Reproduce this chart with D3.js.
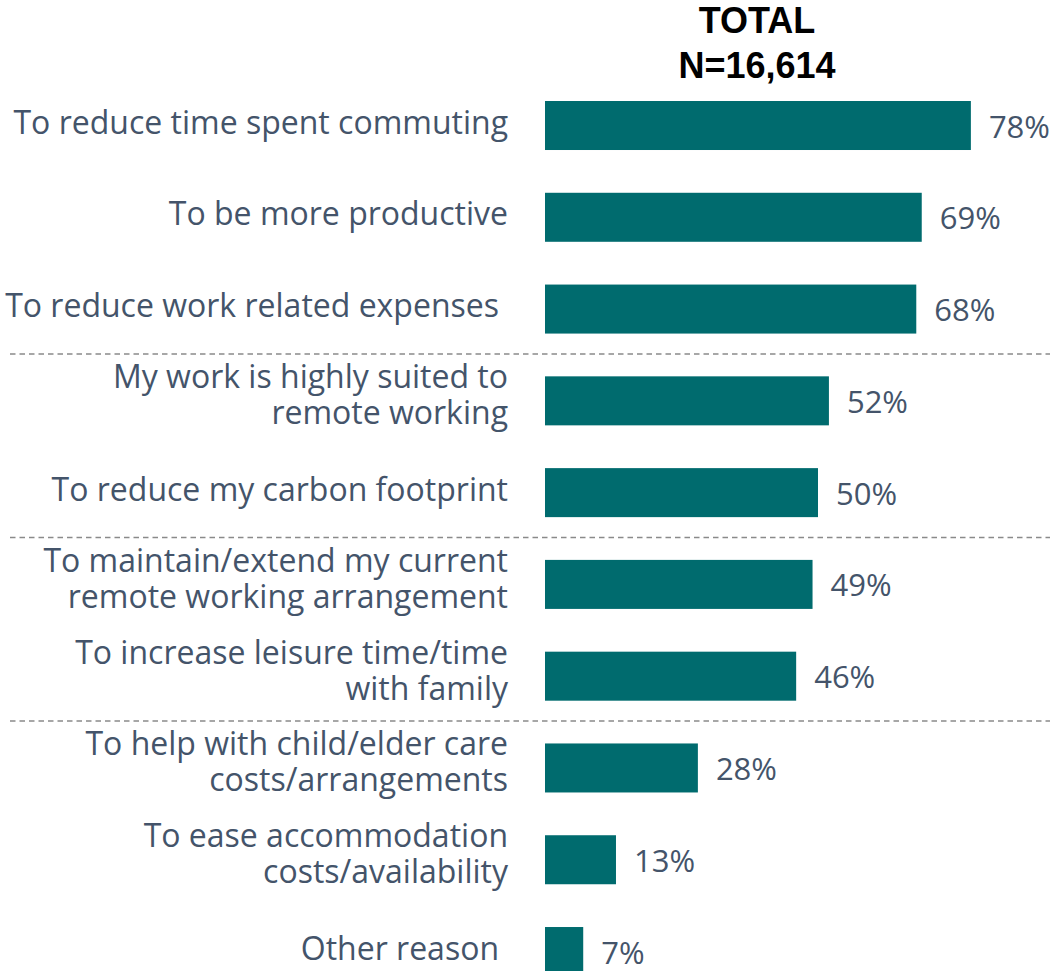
<!DOCTYPE html>
<html>
<head>
<meta charset="utf-8">
<script src="https://cdn.jsdelivr.net/npm/d3@7"></script>
<style>
  html, body { margin: 0; padding: 0; background: #fff; overflow: hidden; }
  svg { display: block; }
</style>
</head>
<body>
<svg id="chart" width="1053" height="971"></svg>
<script>
// Reasons for wanting to work remotely (share of respondents)
const categories = [
  ["To reduce time spent commuting"],
  ["To be more productive"],
  ["To reduce work related expenses"],
  ["My work is highly suited to", "remote working"],
  ["To reduce my carbon footprint"],
  ["To maintain/extend my current", "remote working arrangement"],
  ["To increase leisure time/time", "with family"],
  ["To help with child/elder care", "costs/arrangements"],
  ["To ease accommodation", "costs/availability"],
  ["Other reason"]
];
const values = [78, 69, 68, 52, 50, 49, 46, 28, 13, 7];
const headerLines = ["TOTAL", "N=16,614"];
// group separators fall after these row indices
const groupBreaks = [2, 4, 6];

const svg = d3.select("#chart");
const textColor = "#44546a";
const barColor = "#006b6e";
const labelFont = "'Open Sans', sans-serif";

const barLeft = 545;
const x = d3.scaleLinear().domain([0, 100]).range([barLeft, barLeft + 546]);

const idx = d3.range(values.length);
const pInner = 0.466;
const step = 91.78;
const yTop = 101 - step * pInner / 2;
const y = d3.scaleBand()
  .domain(idx)
  .range([yTop, yTop + step * values.length])
  .paddingInner(pInner)
  .paddingOuter(pInner / 2);

// header
svg.append("g").selectAll("text")
  .data(headerLines)
  .join("text")
  .attr("x", 757)
  .attr("y", (d, i) => 33 + i * 45)
  .attr("text-anchor", "middle")
  .attr("font-family", "'Liberation Sans', Arial, sans-serif")
  .attr("font-weight", "bold")
  .attr("font-size", 36)
  .attr("fill", "#000")
  .text(d => d);

// dashed group separators
svg.append("g").selectAll("line")
  .data(groupBreaks)
  .join("line")
  .attr("x1", 10)
  .attr("x2", 1050)
  .attr("y1", d => (y(d) + y.bandwidth() + y(d + 1)) / 2 - 1)
  .attr("y2", d => (y(d) + y.bandwidth() + y(d + 1)) / 2 - 1)
  .attr("stroke", "#8a8a8a")
  .attr("stroke-width", 1.5)
  .attr("stroke-dasharray", "5.5,4");

// bars
svg.append("g").selectAll("rect")
  .data(idx)
  .join("rect")
  .attr("x", x(0))
  .attr("y", i => y(i))
  .attr("width", i => x(values[i]) - x(0))
  .attr("height", y.bandwidth())
  .attr("fill", barColor);

// value labels
svg.append("g").selectAll("text")
  .data(idx)
  .join("text")
  .attr("x", i => x(values[i]) + 18)
  .attr("y", i => y(i) + y.bandwidth() / 2 + 12)
  .attr("font-family", labelFont)
  .attr("font-size", 31)
  .attr("fill", textColor)
  .text(i => values[i] + "%");

// category labels (right-aligned, possibly two lines)
const lineGap = 36;
const catG = svg.append("g");
idx.forEach(i => {
  const lines = categories[i];
  const cy = y(i) + y.bandwidth() / 2;
  const firstBase = lines.length > 1 ? cy - 12.5 : cy + 8;
  const t = catG.append("text")
    .attr("text-anchor", "end")
    .attr("font-family", labelFont)
    .attr("font-size", 32)
    .attr("fill", textColor);
  lines.forEach((ln, k) => {
    t.append("tspan")
      .attr("x", i === 2 || i === 9 ? 499 : 508)
      .attr("y", firstBase + k * lineGap)
      .text(ln);
  });
});
</script>
</body>
</html>
